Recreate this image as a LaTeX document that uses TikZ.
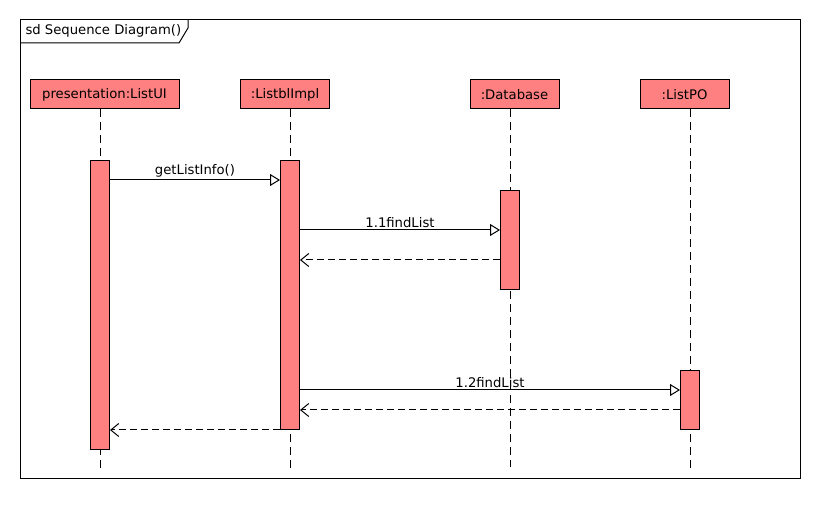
\documentclass[tikz,border=0pt]{standalone}
\usepackage{fontspec}
\setmainfont{DejaVu Sans}
\usetikzlibrary{arrows.meta,calc}
\definecolor{lifered}{RGB}{255,128,128}

\begin{document}
\begin{tikzpicture}[x=1pt, y=-1pt, line width=1pt,
    every node/.style={font=\fontsize{13.2}{15}\selectfont},
    head/.style={rectangle, draw, fill=lifered, minimum height=29pt, inner sep=0pt},
    act/.style={rectangle, draw, fill=lifered, minimum width=19pt, inner sep=0pt, anchor=north},
    life/.style={dash pattern=on 8pt off 5pt},
    call/.style={-{Triangle[open,length=10pt,width=12pt]}},
    reply/.style={dash pattern=on 7pt off 4pt, -{Straight Barb[length=8pt,width=13pt]}},
    msg/.style={above, inner sep=2pt}]

  \useasboundingbox (0,0) rectangle (820,510);

  % frame and its tab
  \node[draw, rectangle, minimum width=780pt, minimum height=459pt, inner sep=0pt] (frame) at (410,249.5) {};
  \node[anchor=west, inner sep=0pt] (title) at (25,31) {sd Sequence Diagram()};
  \draw (20,43) -- (179,43) -- (188,28) -- (188,20);

  % lifeline heads
  \node[head, minimum width=149pt] (UI) at (104.5,94.5) {presentation:ListUI};
  \node[head, minimum width=89pt] (BL) at (285,94.5) {:ListblImpl};
  \node[head, minimum width=89pt] (DB) at (514.5,94.5) {:Database};
  \node[head, minimum width=89pt] (PO) at (684.5,94.5) {:ListPO};

  \coordinate (endUI) at (100,470);
  \coordinate (endBL) at (290,470);
  \coordinate (endDB) at (510,467);
  \coordinate (endPO) at (690,470);

  \draw[life] (endUI |- UI.south) -- (endUI);
  \draw[life] (endBL |- BL.south) -- (endBL);
  \draw[life] (endDB |- DB.south) -- (endDB);
  \draw[life] (endPO |- PO.south) -- (endPO);

  % activations
  \node[act, minimum height=289pt] (aUI) at (100,160) {};
  \node[act, minimum height=269pt] (aBL) at (290,160) {};
  \node[act, minimum height=99pt] (aDB) at (510,190) {};
  \node[act, minimum height=59pt] (aPO) at (690,370) {};

  % messages
  \draw[call] (aUI.east |- 0,180) -- node[msg] {getListInfo()} (aBL.west |- 0,180);
  \draw[call] (aBL.east |- 0,230) -- node[msg] {1.1findList} (aDB.west |- 0,230);
  \draw[reply] (aDB.west |- 0,260) -- (aBL.east |- 0,260);
  \draw[call] (aBL.east |- 0,390) -- node[msg] {1.2findList} (aPO.west |- 0,390);
  \draw[reply] (aPO.west |- 0,410) -- (aBL.east |- 0,410);
  \draw[reply] (aBL.west |- 0,430) -- (aUI.east |- 0,430);
\end{tikzpicture}
\end{document}
